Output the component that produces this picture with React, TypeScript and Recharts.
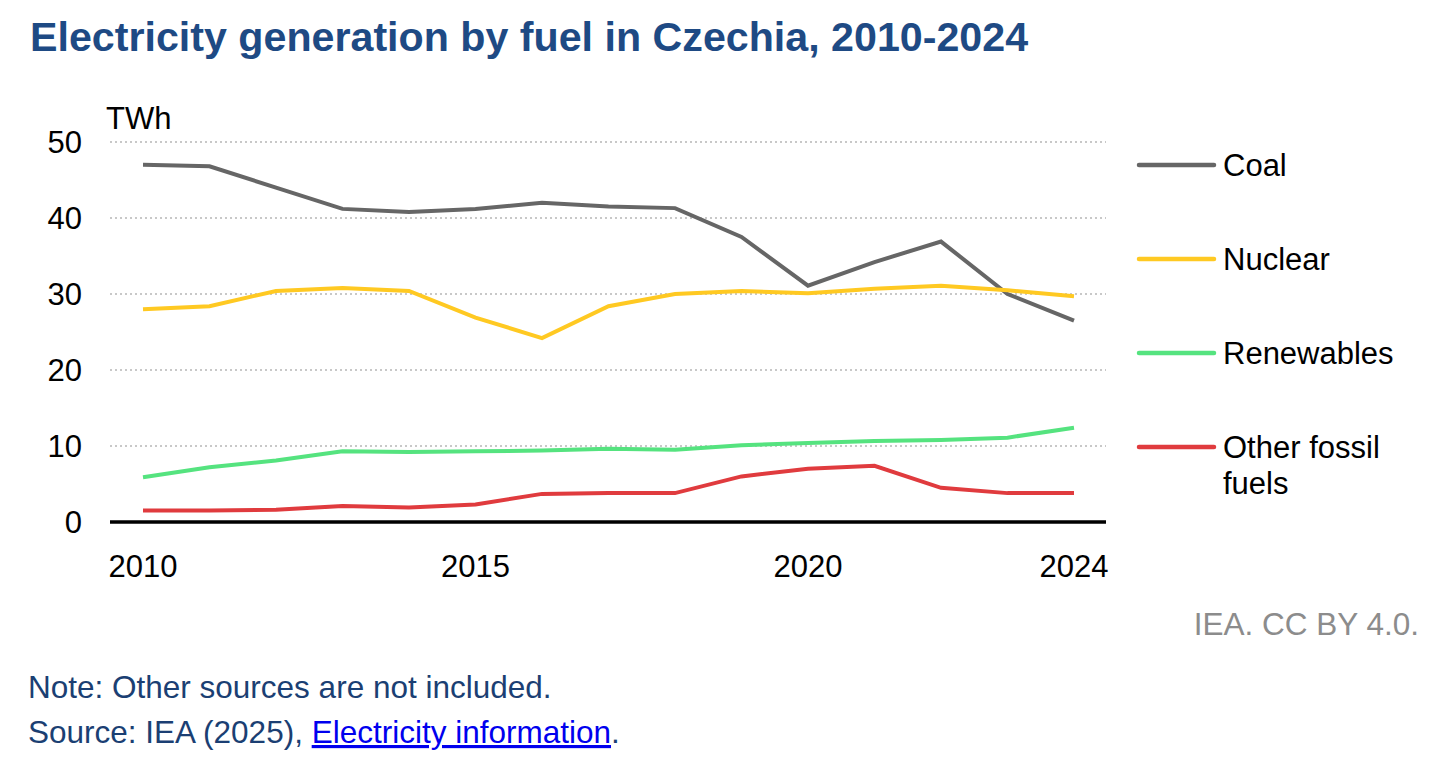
import React from "react";
import { LineChart, Line, XAxis, YAxis, CartesianGrid } from "recharts";

const years = [2010, 2011, 2012, 2013, 2014, 2015, 2016, 2017, 2018, 2019, 2020, 2021, 2022, 2023, 2024];
const coal = [47.0, 46.8, 44.0, 41.2, 40.8, 41.2, 42.0, 41.5, 41.3, 37.5, 31.1, 34.2, 36.9, 30.0, 26.5];
const nuclear = [28.0, 28.4, 30.4, 30.8, 30.4, 26.9, 24.2, 28.4, 30.0, 30.4, 30.1, 30.7, 31.1, 30.5, 29.7];
const renewables = [5.9, 7.2, 8.1, 9.3, 9.2, 9.3, 9.4, 9.65, 9.5, 10.1, 10.4, 10.65, 10.8, 11.1, 12.4];
const otherFossil = [1.5, 1.5, 1.6, 2.1, 1.9, 2.3, 3.7, 3.8, 3.8, 6.0, 7.0, 7.4, 4.5, 3.8, 3.8];

const xTicks = [2010, 2015, 2020, 2024];
const yTicks = [0, 10, 20, 30, 40, 50];

const seriesDefs = [
  { key: "coal", label: ["Coal"], color: "#666666" },
  { key: "nuclear", label: ["Nuclear"], color: "#FFC922" },
  { key: "renewables", label: ["Renewables"], color: "#55E37F" },
  { key: "other", label: ["Other fossil", "fuels"], color: "#E03B3E" },
];

const data = years.map((y, i) => ({
  year: y,
  coal: coal[i],
  nuclear: nuclear[i],
  renewables: renewables[i],
  other: otherFossil[i],
}));

const FONT = "'Liberation Sans', Arial, sans-serif";

export default function App() {
  return (
    <div style={{ position: "relative", width: 1456, height: 763, margin: -8, background: "#fff", fontFamily: FONT, overflow: "hidden" }}>
      <div style={{ position: "absolute", left: 0, top: 0 }}>
        <LineChart
          width={1456}
          height={763}
          data={data}
          margin={{ top: 142, right: 350, bottom: 181, left: 10 }}
        >
          <CartesianGrid vertical={false} stroke="#c8c8c8" strokeWidth={2} strokeDasharray="2 3" />
          <XAxis
            dataKey="year"
            type="number"
            domain={[2010, 2024]}
            ticks={xTicks}
            padding={{ left: 33, right: 32 }}
            height={60}
            axisLine={{ stroke: "#000", strokeWidth: 3.5 }}
            tickLine={false}
            tickSize={0}
            tickMargin={33}
            tick={{ fill: "#000", fontSize: 31, fontFamily: FONT }}
            interval={0}
          />
          <YAxis
            type="number"
            domain={[0, 50]}
            ticks={yTicks}
            width={100}
            axisLine={false}
            tickLine={false}
            tickSize={0}
            tickMargin={28}
            tick={{ fill: "#000", fontSize: 31, fontFamily: FONT }}
            interval={0}
          />
          {seriesDefs.map((s) => (
            <Line
              key={s.key}
              type="linear"
              dataKey={s.key}
              stroke={s.color}
              strokeWidth={4}
              dot={false}
              activeDot={false}
              isAnimationActive={false}
            />
          ))}
        </LineChart>
      </div>
      <svg width={1456} height={763} style={{ position: "absolute", left: 0, top: 0 }} fontFamily={FONT}>
        <text x={30} y={51} fontSize={41.2} fontWeight="bold" fill="#1E4A84">
          Electricity generation by fuel in Czechia, 2010-2024
        </text>
        <text x={106} y={129} fontSize={31} fill="#000">TWh</text>
        {seriesDefs.map((s, i) => {
          const cy = 165 + i * 94;
          return (
            <g key={s.key}>
              <line x1={1139} x2={1214} y1={cy} y2={cy} stroke={s.color} strokeWidth={4.5} strokeLinecap="round" />
              {s.label.map((t, j) => (
                <text key={j} x={1223} y={cy + 11 + j * 36} fontSize={31} fill="#000">{t}</text>
              ))}
            </g>
          );
        })}
        <text x={1419} y={635} fontSize={31.5} fill="#8c8c8c" textAnchor="end">IEA. CC BY 4.0.</text>
        <text x={28} y={698} fontSize={31.5} fill="#1B3F73">Note: Other sources are not included.</text>
        <text x={28} y={743} fontSize={31.5} fill="#1B3F73">
          Source: IEA (2025),{" "}
          <tspan fill="#0000EE" style={{ textDecoration: "underline" }}>Electricity information</tspan>
          .
        </text>
      </svg>
    </div>
  );
}
